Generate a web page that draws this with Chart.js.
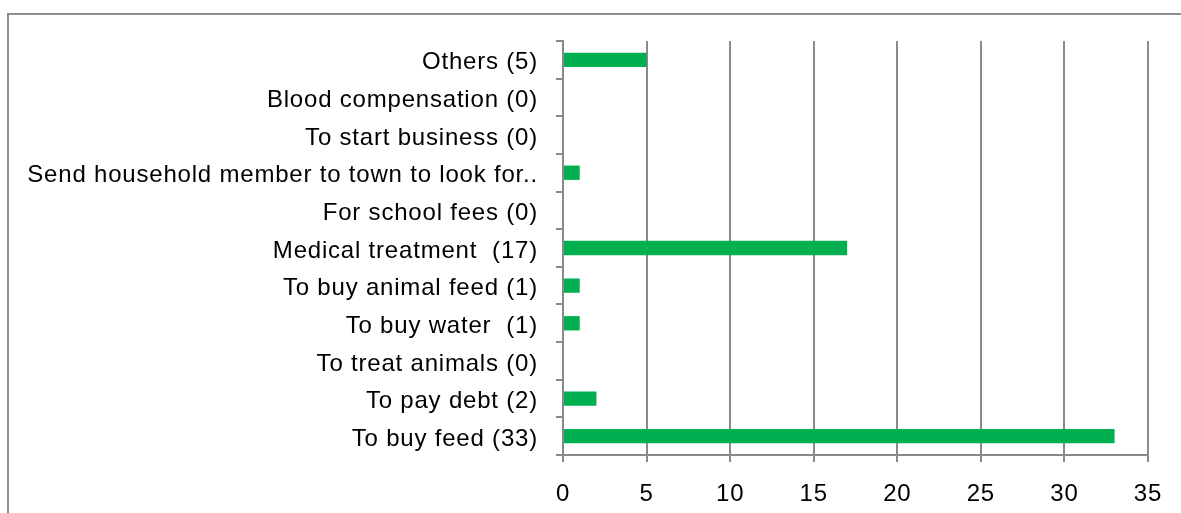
<!DOCTYPE html>
<html>
<head>
<meta charset="utf-8">
<script src="https://cdn.jsdelivr.net/npm/chart.js@4/dist/chart.umd.min.js"></script>
<style>
  html, body { margin: 0; padding: 0; background: #fff; overflow: hidden; }
  #frame {
    position: absolute; left: 7px; top: 13px;
    border: 2px solid #8e8e8e; background: #fff;
  }
  canvas { display: block; }
</style>
</head>
<body>
<div id="frame"><canvas id="chart" width="1172" height="500"></canvas></div>
<script>
// categories, top to bottom as shown
const categories = [
  "Others (5)",
  "Blood compensation (0)",
  "To start business (0)",
  "Send household member to town to look for..",
  "For school fees (0)",
  "Medical treatment  (17)",
  "To buy animal feed (1)",
  "To buy water  (1)",
  "To treat animals (0)",
  "To pay debt (2)",
  "To buy feed (33)"
];
const counts = [5, 0, 0, 1, 0, 17, 1, 1, 0, 2, 33];
const xTicks = [0, 5, 10, 15, 20, 25, 30, 35];

const gridGray = "#8a8a8a";
const labelFont = { family: "'Liberation Sans', Arial, sans-serif", size: 24 };

// Excel-like slightly wide letter spacing on all text
const spacingPlugin = {
  id: "spacing",
  beforeLayout: (chart) => { chart.ctx.letterSpacing = "0.8px"; },
  beforeDraw: (chart) => { chart.ctx.letterSpacing = "0.8px"; }
};

const ctx = document.getElementById("chart");

new Chart(ctx, {
  type: "bar",
  data: {
    labels: categories,
    datasets: [
      {
        data: counts,
        backgroundColor: "#00b050",
        borderWidth: 0,
        barPercentage: 0.38,
        categoryPercentage: 1.0
      }
    ]
  },
  options: {
    indexAxis: "y",
    responsive: false,
    animation: false,
    layout: { padding: { left: 0, top: 26, right: 33, bottom: 0 } },
    plugins: {
      legend: { display: false },
      tooltip: { enabled: false }
    },
    scales: {
      x: {
        min: 0,
        max: 35,
        afterBuildTicks: (scale) => {
          scale.ticks = xTicks.map((v) => ({ value: v }));
        },
        afterFit: (scale) => { scale.height = 60; },
        grid: {
          color: gridGray,
          lineWidth: 2,
          tickLength: 7
        },
        border: { color: gridGray, width: 2 },
        ticks: { color: "#000", font: labelFont, padding: 18, maxRotation: 0 }
      },
      y: {
        afterFit: (scale) => {
          scale.width = 554;
          // let the layout padding alone decide the top/bottom of the plot
          scale.paddingTop = 0;
          scale.paddingBottom = 0;
        },
        grid: {
          offset: true,
          drawOnChartArea: false,
          color: gridGray,
          lineWidth: 2,
          tickLength: 7
        },
        border: { color: gridGray, width: 2 },
        ticks: { color: "#000", font: labelFont, padding: 18, labelOffset: 3, autoSkip: false }
      }
    }
  },
  plugins: [spacingPlugin]
});
</script>
</body>
</html>
